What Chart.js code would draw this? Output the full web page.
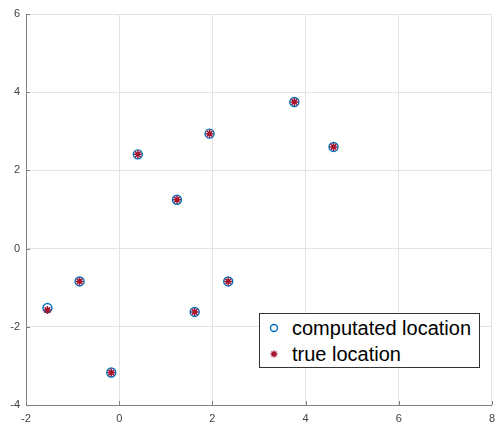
<!DOCTYPE html>
<html>
<head>
<meta charset="utf-8">
<script src="https://cdn.jsdelivr.net/npm/chart.js@4/dist/chart.umd.min.js"></script>
<style>
  html, body { margin: 0; padding: 0; background: #fff; overflow: hidden; }
  #wrap { position: relative; width: 502px; height: 423px; }
  #legend {
    position: absolute; left: 259px; top: 313px; width: 219px; height: 53px;
    border: 1px solid #333; background: #fff;
    font-family: "Liberation Sans", Arial, sans-serif; font-size: 20px; color: #000;
  }
  .row { position: absolute; left: 0; height: 24px; line-height: 24px; }
  .row span { position: absolute; left: 32px; white-space: nowrap; }
  .mark { position: absolute; left: 9px; top: 7px; width: 10px; height: 10px; }
</style>
</head>
<body>
<div id="wrap">
  <canvas id="plot" width="502" height="423"></canvas>
  <div id="legend">
    <div class="row" style="top:2px"><canvas class="mark" id="mk0" width="10" height="10"></canvas><span>computated location</span></div>
    <div class="row" style="top:28px"><canvas class="mark" id="mk1" width="10" height="10"></canvas><span>true location</span></div>
  </div>
</div>
<script>
// values
const xComputed = [-1.54, -0.85, -0.17, 0.40, 1.24, 1.94, 1.62, 2.34, 3.76, 4.60];
const yComputed = [-1.52, -0.84, -3.17, 2.41, 1.25, 2.94, -1.62, -0.84, 3.75, 2.60];
const xTrue = [-1.54, -0.85, -0.17, 0.40, 1.24, 1.94, 1.62, 2.34, 3.76, 4.60];
const yTrue = [-1.57, -0.84, -3.17, 2.41, 1.25, 2.94, -1.62, -0.84, 3.75, 2.60];
const xTicks = [-2, 0, 2, 4, 6, 8];
const yTicks = [-4, -2, 0, 2, 4, 6];
const labels = ["computated location", "true location"];

const blue = "#0072BD";
const red = "#A2142F";
const axisColor = "#808080";
const gridColor = "#e3e3e3";

const toPoints = (xs, ys) => xs.map((x, i) => ({ x: x, y: ys[i] }));

// short inward tick marks, MATLAB style
const innerTicks = {
  id: "innerTicks",
  beforeDatasetsDraw(chart) {
    const ctx = chart.ctx;
    const xs = chart.scales.x, ys = chart.scales.y;
    const area = chart.chartArea;
    ctx.save();
    ctx.strokeStyle = axisColor;
    ctx.lineWidth = 1;
    ctx.beginPath();
    xTicks.forEach((v) => {
      const px = Math.round(xs.getPixelForValue(v)) + 0.5;
      ctx.moveTo(px, area.bottom);
      ctx.lineTo(px, area.bottom - 4);
    });
    yTicks.forEach((v) => {
      const py = Math.round(ys.getPixelForValue(v)) + 0.5;
      ctx.moveTo(area.left, py);
      ctx.lineTo(area.left + 4, py);
    });
    ctx.stroke();
    ctx.restore();
  },
};

const font = { family: "'Liberation Sans', Arial, sans-serif", size: 11 };

new Chart(document.getElementById("plot"), {
  type: "scatter",
  data: {
    datasets: [
      {
        label: labels[1],
        data: toPoints(xTrue, yTrue),
        pointStyle: "star",
        radius: 4,
        borderColor: red,
        backgroundColor: red,
        borderWidth: 1.5,
        order: 0,
      },
      {
        label: labels[0],
        data: toPoints(xComputed, yComputed),
        pointStyle: "circle",
        radius: 4.5,
        borderColor: blue,
        backgroundColor: "rgba(0,0,0,0)",
        borderWidth: 1.4,
        order: 1,
      },
    ],
  },
  options: {
    responsive: false,
    animation: false,
    layout: { padding: { top: 14, right: 8, left: 0, bottom: 0 } },
    plugins: { legend: { display: false }, tooltip: { enabled: false } },
    scales: {
      x: {
        type: "linear",
        min: -2,
        max: 8,
        afterBuildTicks: (s) => { s.ticks = xTicks.map((v) => ({ value: v })); },
        afterFit: (s) => { s.height = 18; },
        grid: { color: gridColor, drawTicks: false },
        border: { color: axisColor, width: 1 },
        ticks: { color: "#404040", font: font, padding: 7, maxRotation: 0 },
      },
      y: {
        type: "linear",
        min: -4,
        max: 6,
        afterBuildTicks: (s) => { s.ticks = yTicks.map((v) => ({ value: v })); },
        afterFit: (s) => { s.width = 26; },
        grid: { color: gridColor, drawTicks: false },
        border: { color: axisColor, width: 1 },
        ticks: { color: "#404040", font: font, padding: 6 },
      },
    },
  },
  plugins: [innerTicks],
});

// legend markers
(function () {
  const c0 = document.getElementById("mk0").getContext("2d");
  c0.strokeStyle = blue; c0.lineWidth = 1.4;
  c0.beginPath(); c0.arc(5, 5, 3.5, 0, Math.PI * 2); c0.stroke();
  const c1 = document.getElementById("mk1").getContext("2d");
  c1.strokeStyle = red; c1.lineWidth = 1.4;
  c1.beginPath();
  c1.moveTo(5, 1.5); c1.lineTo(5, 8.5);
  c1.moveTo(1.5, 5); c1.lineTo(8.5, 5);
  c1.moveTo(2.5, 2.5); c1.lineTo(7.5, 7.5);
  c1.moveTo(7.5, 2.5); c1.lineTo(2.5, 7.5);
  c1.stroke();
})();
</script>
</body>
</html>
